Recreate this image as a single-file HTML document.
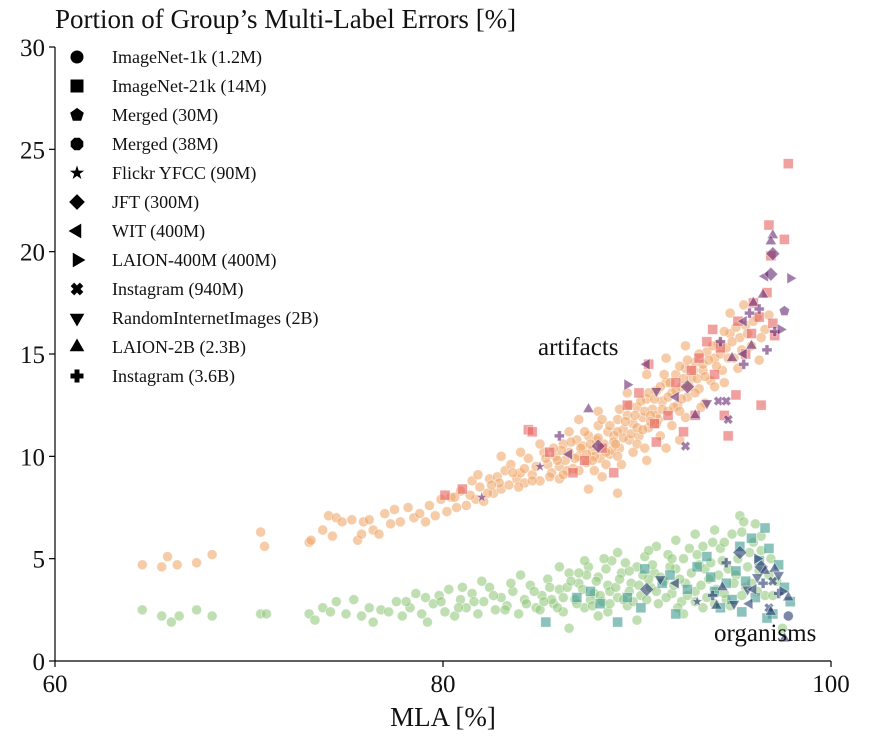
<!DOCTYPE html>
<html><head><meta charset="utf-8"><style>
body{margin:0;background:#fff}
svg{display:block;font-family:"Liberation Serif",serif}
</style></head><body>
<svg id="chart" width="869" height="750">
<text x="55" y="28" font-size="27" fill="#111">Portion of Group’s Multi-Label Errors [%]</text>
<text x="443" y="726" font-size="27" fill="#111" text-anchor="middle">MLA [%]</text>
<g id="marks"></g>
<g id="axes"></g>
<text x="538" y="355" font-size="25" fill="#111">artifacts</text>
<text x="714" y="641" font-size="25" fill="#111">organisms</text>
<g id="legend"></g>
</svg>
<script>
const xTicks=[60,80,100];
const yTicks=[0,5,10,15,20,25,30];
const legendLabels=["ImageNet-1k (1.2M)","ImageNet-21k (14M)","Merged (30M)","Merged (38M)","Flickr YFCC (90M)","JFT (300M)","WIT (400M)","LAION-400M (400M)","Instagram (940M)","RandomInternetImages (2B)","LAION-2B (2.3B)","Instagram (3.6B)"];
const legendShapes=["circle","square","pentagon","octagon","star","diamond","tri-left","tri-right","x","tri-down","tri-up","plus"];
const artCircles=[[64.5,4.7],[65.5,4.6],[65.8,5.1],[66.3,4.7],[67.3,4.8],[68.1,5.2],[70.6,6.3],[70.8,5.6],[73.1,5.8],[73.2,5.9],[73.8,6.4],[74.1,7.1],[74.3,6.1],[74.5,7.0],[74.8,6.8],[75.3,6.9],[75.6,5.9],[75.8,6.2],[75.9,6.8],[76.2,6.9],[76.4,6.4],[76.7,6.2],[77.0,7.2],[77.3,6.7],[77.5,7.4],[77.8,6.8],[78.2,7.5],[78.5,7.0],[78.8,7.2],[79.1,6.8],[79.3,7.6],[79.6,7.1],[79.9,7.9],[80.2,7.3],[80.4,8.0],[80.7,7.5],[80.9,8.3],[81.2,7.6],[81.5,8.8],[81.7,7.9],[81.9,8.5],[82.1,7.8],[82.4,8.9],[82.6,8.2],[82.8,9.0],[83.0,8.4],[83.2,9.3],[83.4,8.6],[83.5,9.6],[83.8,8.9],[84.0,9.2],[84.2,8.7],[84.4,9.9],[84.6,9.1],[84.8,9.5],[85.0,8.8],[85.2,10.2],[85.4,9.6],[85.6,9.2],[85.8,10.0],[86.0,9.5],[86.2,10.6],[86.3,9.8],[86.5,10.2],[86.7,9.4],[86.9,10.8],[87.0,10.0],[87.2,10.5],[87.4,9.7],[87.5,11.0],[87.7,10.3],[87.9,10.8],[88.0,11.5],[88.1,9.9],[88.3,10.6],[88.5,11.2],[88.6,10.1],[88.8,11.0],[89.0,11.8],[89.1,10.4],[89.3,11.3],[89.5,12.0],[89.6,10.8],[89.8,11.6],[90.0,12.4],[90.1,11.0],[90.3,11.9],[90.5,12.8],[90.6,11.4],[90.8,12.3],[91.0,13.2],[91.1,11.8],[91.3,12.7],[91.5,13.6],[91.6,12.2],[91.8,13.1],[92.0,14.0],[92.1,12.5],[92.3,13.4],[92.5,14.3],[92.6,12.9],[92.8,13.8],[93.0,14.6],[93.2,13.3],[93.4,14.2],[93.6,15.1],[93.8,13.7],[94.0,14.8],[94.2,15.5],[94.4,14.2],[94.6,15.3],[94.8,16.0],[95.0,14.8],[95.3,15.8],[95.6,16.4],[95.9,15.4],[96.2,16.8],[96.6,16.2],[89.0,8.2],[87.5,8.4],[88.2,9.0],[86.0,8.9],[90.5,9.8],[91.5,10.4],[92.2,10.8],[85.0,10.6],[84.0,10.2],[83.0,10.0],[88.0,12.2],[89.5,13.1],[90.5,14.0],[91.5,14.8],[92.5,15.4],[87.0,11.8],[86.5,11.2],[90.0,10.6],[89.2,9.6],[93.5,12.6],[94.5,13.6],[91.0,12.0],[88.7,10.3],[87.8,9.3],
[85.5,9.0],[85.9,9.8],[86.1,10.3],[86.4,9.3],[86.6,10.7],[86.8,9.9],[87.1,10.4],[87.3,11.2],[87.6,10.6],[87.8,10.0],[88.0,10.9],[88.2,11.8],[88.4,10.2],[88.6,11.5],[88.8,10.7],[89.0,11.2],[89.1,12.3],[89.3,10.9],[89.4,11.7],[89.6,12.5],[89.7,11.1],[89.9,12.0],[90.0,11.4],[90.2,12.7],[90.3,11.3],[90.4,12.2],[90.6,13.1],[90.7,12.0],[90.9,12.8],[91.0,11.6],[91.2,13.4],[91.3,12.3],[91.4,14.0],[91.6,12.9],[91.7,13.6],[91.9,12.4],[92.0,13.2],[92.2,14.4],[92.3,12.8],[92.4,13.8],[92.6,14.7],[92.7,13.4],[92.9,14.2],[93.1,13.8],[93.2,15.0],[93.4,14.5],[93.5,13.9],[93.7,14.7],[93.9,15.4],[94.1,14.4],[94.3,15.0],[94.5,16.1],[94.7,14.8],[94.9,15.6],[95.1,16.3],[95.4,15.2],[95.7,16.0],[96.0,16.6],[96.4,15.8],[96.8,16.9],[86.2,9.1],[87.0,9.3],[87.7,9.8],[88.4,9.6],[89.0,10.0],[89.8,10.2],[90.4,10.4],[91.2,11.0],[91.8,11.5],[92.5,11.9],[93.3,12.4],[84.2,9.4],[84.6,8.8],[85.3,9.9],[85.7,10.4],[83.6,9.2],[83.9,8.5],[82.9,8.7],[82.3,8.2],[81.4,8.1],[80.6,8.0],[81.8,9.1],[82.5,8.6],[87.4,10.1],[88.9,10.6],[90.7,11.7],[92.2,12.2],[93.0,13.1],[94.0,13.4],[95.2,14.3],[96.3,14.7],[94.8,17.0],[95.5,17.4]];
const artSquares=[[84.4,11.3],[84.6,11.2],[80.1,8.1],[81.0,8.4],[85.5,10.2],[86.7,9.2],[87.3,9.8],[88.2,10.4],[88.8,9.2],[89.5,12.5],[90.1,13.1],[90.6,14.5],[90.9,11.6],[91.6,12.0],[92.0,13.6],[92.8,14.2],[93.2,14.8],[93.6,15.6],[93.9,16.2],[94.3,15.3],[94.5,12.0],[94.7,11.0],[95.2,16.6],[95.6,15.0],[95.9,16.0],[96.0,17.5],[96.3,16.8],[96.4,12.5],[96.7,18.0],[96.9,19.8],[97.1,15.9],[97.6,20.6],[97.8,24.3],[96.8,21.3],[95.1,13.0],[93.0,12.0],[91.0,10.7],[94.0,14.0],[97.0,16.5],[92.4,11.2]];
const artOther=[["tri-up",97.0,20.8],["tri-up",96.9,20.5],["diamond",97.0,19.9],["tri-left",96.6,18.8],["diamond",96.9,18.9],["tri-right",97.9,18.7],["tri-up",96.5,17.9],["tri-up",96.0,17.5],["plus",95.8,17.0],["plus",96.3,17.2],["plus",97.1,16.1],["tri-left",95.5,16.6],["tri-right",97.4,16.2],["pentagon",97.6,17.1],["plus",94.3,15.6],["tri-left",95.5,15.0],["tri-up",95.9,15.4],["plus",96.7,15.2],["tri-down",93.6,12.6],["x",94.2,12.7],["x",94.6,12.7],["x",94.7,11.8],["plus",95.5,14.5],["tri-up",94.9,14.8],["tri-up",93.0,12.0],["diamond",92.6,13.4],["tri-left",92.0,12.9],["tri-left",86.5,10.1],["tri-up",87.5,12.3],["diamond",88.0,10.5],["star",85.0,9.5],["plus",86.0,11.0],["tri-down",91.0,13.2],["tri-right",89.5,13.5],["x",92.5,10.5],["star",82.0,8.0],["tri-left",90.5,14.5]];
const orgCircles=[[64.5,2.5],[65.5,2.2],[66.0,1.9],[66.4,2.2],[67.3,2.5],[68.1,2.2],[70.6,2.3],[70.9,2.3],[73.1,2.3],[73.4,2.0],[73.8,2.6],[74.2,2.4],[74.5,2.9],[75.0,2.3],[75.4,3.0],[75.8,2.2],[76.2,2.6],[76.4,1.9],[76.8,2.5],[77.2,2.4],[77.6,2.9],[77.9,2.2],[78.3,2.6],[78.6,3.3],[78.9,2.3],[79.2,1.9],[79.5,2.8],[79.8,3.2],[80.1,2.4],[80.3,3.5],[80.6,2.2],[80.9,3.0],[81.2,2.6],[81.5,3.3],[81.8,2.3],[82.1,2.9],[82.4,3.6],[82.7,2.5],[83.0,3.1],[83.3,2.7],[83.6,3.4],[83.9,2.3],[84.2,3.0],[84.5,3.7],[84.8,2.6],[85.1,3.2],[85.4,4.0],[85.7,2.8],[86.0,3.5],[86.2,2.4],[86.5,4.3],[86.8,3.0],[87.0,3.8],[87.3,2.6],[87.5,4.6],[87.8,3.3],[88.0,4.1],[88.2,2.9],[88.5,3.7],[88.7,4.9],[89.0,3.1],[89.2,4.3],[89.5,2.7],[89.7,3.8],[90.0,4.6],[90.2,3.2],[90.4,5.1],[90.7,3.6],[90.9,4.3],[91.1,2.8],[91.4,3.9],[91.6,5.2],[91.8,3.3],[92.0,4.5],[92.3,2.9],[92.5,3.8],[92.7,5.5],[93.0,3.4],[93.2,4.7],[93.4,2.6],[93.7,4.0],[93.9,5.8],[94.1,3.5],[94.4,4.9],[94.6,3.0],[94.9,6.2],[95.1,4.2],[95.3,7.1],[95.6,3.6],[95.8,5.3],[96.1,6.7],[96.3,4.4],[96.6,3.2],[96.9,5.0],[97.2,3.9],[97.5,1.6],[86.5,1.6],[88.0,2.2],[90.0,2.0],[85.0,2.5],[84.0,4.2],[83.5,3.8],[82.0,3.9],[81.0,3.6],[87.3,4.9],[89.0,5.3],[91.0,5.6],[92.0,5.9],[93.0,6.2],[94.0,6.4],[95.5,6.8],[88.5,2.4],[92.4,2.3],[90.6,4.0],[89.6,3.4],[86.4,3.6],[85.6,3.0],[87.6,3.0],[88.6,3.4],
[84.3,2.8],[84.7,3.4],[85.2,2.9],[85.5,3.6],[85.9,2.6],[86.2,3.1],[86.6,3.9],[86.9,2.8],[87.2,3.5],[87.4,4.2],[87.7,2.7],[87.9,3.9],[88.1,3.2],[88.4,4.5],[88.6,2.8],[88.9,3.6],[89.1,4.0],[89.3,3.0],[89.6,4.4],[89.8,2.9],[90.1,3.7],[90.3,4.2],[90.5,3.0],[90.8,4.7],[91.0,3.4],[91.2,4.1],[91.5,3.1],[91.7,4.6],[91.9,3.7],[92.1,2.6],[92.2,4.0],[92.4,5.0],[92.6,3.2],[92.8,4.3],[93.0,2.9],[93.1,5.2],[93.3,3.7],[93.5,4.5],[93.6,3.1],[93.8,4.8],[94.0,2.8],[94.2,4.2],[94.3,5.5],[94.5,3.3],[94.7,4.5],[94.8,2.7],[95.0,3.8],[95.2,5.0],[95.4,3.2],[95.7,4.6],[95.9,3.8],[96.0,5.8],[96.2,3.4],[96.4,5.4],[96.8,4.2],[97.0,3.2],[83.2,2.5],[82.6,3.2],[81.6,2.9],[80.8,2.6],[79.9,2.9],[79.1,3.1],[78.1,2.9],[86.0,4.6],[87.0,4.3],[88.3,5.0],[89.4,4.8],[90.6,5.4],[91.8,5.0],[93.4,5.6],[94.5,5.8],[95.4,6.3],[96.4,6.1]];
const orgSquares=[[85.3,1.9],[87.6,3.4],[88.1,2.8],[89.5,3.1],[90.2,2.6],[90.4,4.5],[91.3,3.8],[92.0,2.3],[92.6,3.5],[93.1,4.6],[93.6,5.1],[94.0,3.4],[94.3,2.6],[94.9,3.0],[95.1,4.4],[95.3,5.6],[95.6,3.9],[95.9,6.0],[96.1,3.1],[96.3,4.9],[96.6,6.5],[96.8,5.5],[97.0,2.3],[97.3,4.7],[97.6,3.6],[97.9,2.9],[96.7,2.1],[95.4,2.4],[94.6,3.8],[93.8,4.1],[86.9,3.1],[89.0,1.9],[91.7,4.2]];
const orgOther=[["diamond",95.3,5.3],["diamond",96.4,4.6],["tri-up",96.6,4.4],["tri-up",97.1,4.5],["tri-down",96.2,4.1],["tri-down",95.7,3.5],["plus",96.5,3.8],["plus",97.3,3.3],["x",97.0,3.9],["tri-left",96.0,3.5],["tri-right",97.5,3.4],["tri-up",97.8,3.1],["tri-down",95.0,2.8],["tri-up",94.4,3.6],["plus",94.6,4.8],["star",93.1,2.9],["tri-left",92.0,3.8],["tri-down",91.2,4.0],["x",96.8,2.6],["tri-up",97.6,1.1],["circle",97.8,2.2],["tri-up",96.9,2.4],["tri-left",95.8,2.8],["plus",93.9,3.2],["diamond",90.5,3.5],["tri-up",94.1,2.7],["tri-down",97.3,4.2],["tri-right",96.2,5.0]];

const NS="http://www.w3.org/2000/svg";
const X0=55,X1=831,Y0=661,Y1=47;
function sx(v){return X0+(v-60)/40*(X1-X0);}
function sy(v){return Y0-(v-0)/30*(Y0-Y1);}
function poly(pts){return pts.map(p=>p.join(",")).join(" ");}
function shape(t,cx,cy,r){
  let el;
  if(t==="circle"){el=document.createElementNS(NS,"circle");el.setAttribute("cx",cx);el.setAttribute("cy",cy);el.setAttribute("r",r);return el;}
  if(t==="square"){el=document.createElementNS(NS,"rect");el.setAttribute("x",cx-r);el.setAttribute("y",cy-r);el.setAttribute("width",2*r);el.setAttribute("height",2*r);return el;}
  el=document.createElementNS(NS,"polygon");
  let p=[];
  const reg=(n,rr,rot)=>{for(let i=0;i<n;i++){const a=rot+i*2*Math.PI/n;p.push([cx+rr*Math.cos(a),cy+rr*Math.sin(a)]);}};
  if(t==="pentagon")reg(5,r*1.1,-Math.PI/2);
  else if(t==="octagon")reg(8,r*1.05,Math.PI/8);
  else if(t==="diamond")reg(4,r*1.4,-Math.PI/2);
  else if(t==="tri-up")reg(3,r*1.3,-Math.PI/2);
  else if(t==="tri-down")reg(3,r*1.3,Math.PI/2);
  else if(t==="tri-left")reg(3,r*1.3,Math.PI);
  else if(t==="tri-right")reg(3,r*1.3,0);
  else if(t==="star"){for(let i=0;i<10;i++){const a=-Math.PI/2+i*Math.PI/5;const rr=i%2?r*0.45:r*1.15;p.push([cx+rr*Math.cos(a),cy+rr*Math.sin(a)]);}}
  else if(t==="plus"){const a=r,b=r*0.38;p=[[cx-b,cy-a],[cx+b,cy-a],[cx+b,cy-b],[cx+a,cy-b],[cx+a,cy+b],[cx+b,cy+b],[cx+b,cy+a],[cx-b,cy+a],[cx-b,cy+b],[cx-a,cy+b],[cx-a,cy-b],[cx-b,cy-b]];}
  else if(t==="x"){const a=r,b=r*0.38;const base=[[-b,-a],[b,-a],[b,-b],[a,-b],[a,b],[b,b],[b,a],[-b,a],[-b,b],[-a,b],[-a,-b],[-b,-b]];const c=Math.SQRT1_2;p=base.map(([u,v])=>[cx+(u-v)*c,cy+(u+v)*c]);}
  el.setAttribute("points",poly(p));return el;
}
const marks=document.getElementById("marks");
function draw(list,type,fill,name){
  list.forEach(d=>{
    const t=type||d[0];const x=type?d[0]:d[1];const y=type?d[1]:d[2];
    const el=shape(t,sx(x),sy(y),5);
    el.setAttribute("fill",fill);el.setAttribute("fill-opacity","0.6");
    el.setAttribute("stroke","#fff");el.setAttribute("stroke-opacity","0.5");el.setAttribute("stroke-width","0.8");
    
    
    marks.appendChild(el);
  });
}
draw(orgCircles,"circle","#94c97f","organism-point");
draw(artCircles,"circle","#f0a86e","artifact-point");
draw(orgSquares,"square","#3e9a8e","organism-point");
draw(artSquares,"square","#e6605f","artifact-point");
draw(orgOther,null,"#22376a","organism-point");
draw(artOther,null,"#642770","artifact-point");

const axes=document.getElementById("axes");
function line(x1,y1,x2,y2,name){const l=document.createElementNS(NS,"line");l.setAttribute("x1",x1);l.setAttribute("y1",y1);l.setAttribute("x2",x2);l.setAttribute("y2",y2);l.setAttribute("stroke","#000");l.setAttribute("stroke-width","1.2");


axes.appendChild(l);}
function text(x,y,s,anchor,size,name,parent){const t=document.createElementNS(NS,"text");t.setAttribute("x",x);t.setAttribute("y",y);t.setAttribute("text-anchor",anchor);t.setAttribute("font-size",size);t.setAttribute("fill","#111");t.textContent=s;


parent.appendChild(t);}
line(X0,Y1,X0,Y0,"y-axis-line");
line(X0,Y0,X1,Y0,"x-axis-line");
xTicks.forEach(v=>{line(sx(v),Y0,sx(v),Y0+6,"x-tick");text(sx(v),Y0+31,String(v),"middle",25,"x-tick-label",axes);});
yTicks.forEach(v=>{line(X0-6,sy(v),X0,sy(v),"y-tick");text(X0-10,sy(v)+9,String(v),"end",25,"y-tick-label",axes);});

const legend=document.getElementById("legend");
legendLabels.forEach((lab,i)=>{
  const y=57+i*29;
  const el=shape(legendShapes[i],77,y,legendShapes[i]==="diamond"?5.6:6.5);
  el.setAttribute("fill","#000");
  
  
  legend.appendChild(el);
  text(112,y+6,lab,"start",18,"legend-entry",legend);
});
</script>
</body></html>
